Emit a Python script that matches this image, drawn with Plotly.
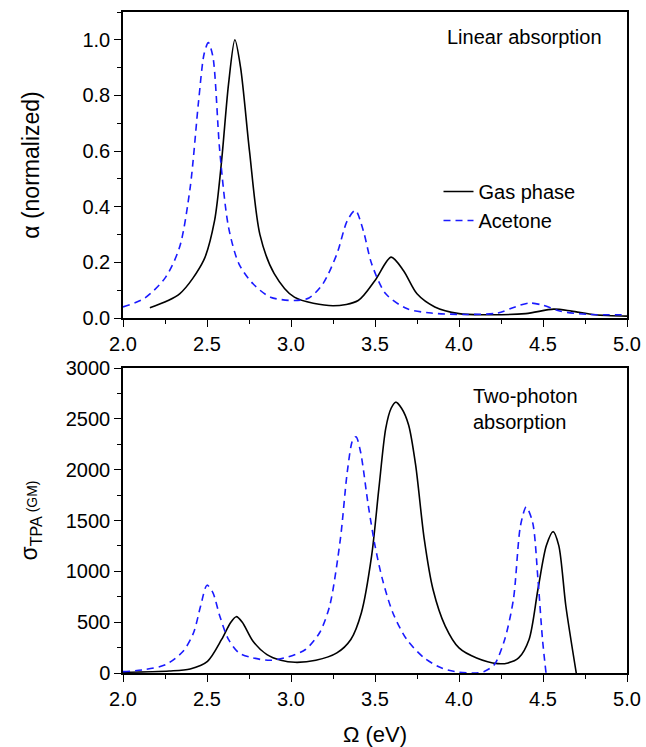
import plotly.graph_objects as go
from plotly.subplots import make_subplots

# ---- Linear absorption (normalized) ----
lin_gas_x = [2.16, 2.337, 2.48, 2.545, 2.587, 2.628, 2.666, 2.70, 2.753, 2.815, 2.90, 3.02, 3.25, 3.40, 3.50,
             3.596, 3.67, 3.75, 3.856, 4.0, 4.147, 4.397, 4.563, 4.67, 4.81, 5.0]
lin_gas_y = [0.037, 0.087, 0.207, 0.35, 0.566, 0.84, 1.0, 0.90, 0.60, 0.30, 0.16, 0.075, 0.044, 0.063, 0.135,
             0.219, 0.17, 0.087, 0.04, 0.016, 0.012, 0.016, 0.032, 0.025, 0.012, 0.007]

lin_ace_x = [2.0, 2.13, 2.254, 2.337, 2.40, 2.45, 2.483, 2.508, 2.535, 2.576, 2.628, 2.69, 2.774, 2.878, 3.02,
             3.107, 3.19, 3.273, 3.335, 3.383, 3.43, 3.48, 3.564, 3.689, 3.835, 4.04, 4.23, 4.334, 4.417,
             4.50, 4.60, 4.77, 5.0]
lin_ace_y = [0.04, 0.072, 0.147, 0.255, 0.47, 0.78, 0.95, 0.99, 0.94, 0.60, 0.327, 0.195, 0.123, 0.075, 0.063,
             0.072, 0.123, 0.23, 0.35, 0.387, 0.315, 0.195, 0.087, 0.034, 0.018, 0.013, 0.018, 0.04, 0.054,
             0.046, 0.025, 0.013, 0.012]

# ---- Two-photon absorption cross section (GM) ----
tpa_gas_x = [2.0, 2.275, 2.40, 2.503, 2.587, 2.64, 2.674, 2.71, 2.774, 2.857, 2.94, 3.024, 3.148, 3.273, 3.356,
             3.419, 3.48, 3.523, 3.564, 3.596, 3.623, 3.658, 3.70, 3.742, 3.793, 3.845, 3.918, 4.0, 4.105,
             4.23, 4.292, 4.355, 4.417, 4.47, 4.52, 4.56, 4.594, 4.636, 4.698]
tpa_gas_y = [7, 20, 40, 115, 330, 495, 554, 500, 313, 181, 125, 105, 125, 198, 330,
             593, 1154, 1813, 2407, 2604, 2664, 2604, 2440, 2044, 1319, 824, 462, 247, 148,
             92, 99, 148, 330, 824, 1253, 1391, 1253, 659, 0]

tpa_ace_x = [2.0, 2.13, 2.254, 2.358, 2.42, 2.462, 2.50, 2.535, 2.576, 2.628, 2.69, 2.774, 2.878, 2.982, 3.086,
             3.17, 3.23, 3.294, 3.335, 3.367, 3.387, 3.414, 3.46, 3.50, 3.544, 3.606, 3.689, 3.793, 3.897,
             4.0, 4.085, 4.147, 4.21, 4.272, 4.324, 4.366, 4.40, 4.438, 4.47, 4.497, 4.518]
tpa_ace_y = [13, 33, 82, 214, 396, 659, 864, 791, 560, 330, 198, 148, 125, 158, 231,
             396, 659, 1319, 1978, 2291, 2324, 2176, 1648, 1253, 923, 593, 330, 148, 49,
             7, 0, 13, 82, 330, 725, 1450, 1632, 1484, 923, 330, 0]

x_ticks = [2.0, 2.5, 3.0, 3.5, 4.0, 4.5, 5.0]
top_y_ticks = [0.0, 0.2, 0.4, 0.6, 0.8, 1.0]
bot_y_ticks = [0, 500, 1000, 1500, 2000, 2500, 3000]

BLUE = "#1a1aff"
FONT = "Liberation Sans, Arial, sans-serif"
TICKSIZE = 20

fig = make_subplots(rows=2, cols=1, shared_xaxes=False, vertical_spacing=0.0)

fig.add_trace(go.Scatter(x=lin_gas_x, y=lin_gas_y, mode="lines", name="Gas phase",
                         line=dict(color="black", width=1.6, shape="spline", smoothing=0.8)), row=1, col=1)
fig.add_trace(go.Scatter(x=lin_ace_x, y=lin_ace_y, mode="lines", name="Acetone",
                         line=dict(color=BLUE, width=1.6, dash="7px,5px", shape="spline", smoothing=0.8)), row=1, col=1)
fig.add_trace(go.Scatter(x=tpa_gas_x, y=tpa_gas_y, mode="lines", showlegend=False,
                         line=dict(color="black", width=1.6, shape="spline", smoothing=0.8)), row=2, col=1)
fig.add_trace(go.Scatter(x=tpa_ace_x, y=tpa_ace_y, mode="lines", showlegend=False,
                         line=dict(color=BLUE, width=1.6, dash="7px,5px", shape="spline", smoothing=0.8)), row=2, col=1)

axis_common = dict(showline=True, linecolor="black", linewidth=1.5, mirror=True, showgrid=False, zeroline=False,
                   ticks="outside", ticklen=7, tickwidth=1.3, tickcolor="black", automargin=False,
                   tickfont=dict(size=TICKSIZE, color="black", family=FONT))

fig.update_xaxes(range=[2.0, 5.0], tickvals=x_ticks, ticktext=[f"{v:.1f}" for v in x_ticks],
                 minor=dict(dtick=0.25, ticks="outside", ticklen=4, tickcolor="black", tickwidth=1.2),
                 **axis_common)
fig.update_xaxes(title=dict(text="Ω (eV)", font=dict(size=22, color="black", family=FONT), standoff=19), row=2, col=1)

fig.update_yaxes(range=[0, 1.1], tickvals=top_y_ticks, ticktext=[f"{v:.1f}" for v in top_y_ticks],
                 minor=dict(dtick=0.1, ticks="outside", ticklen=4, tickcolor="black", tickwidth=1.2),
                 title=dict(text="α (normalized)", font=dict(size=23, color="black", family=FONT), standoff=36),
                 row=1, col=1, **axis_common)
fig.update_yaxes(range=[0, 3000], tickvals=bot_y_ticks, ticktext=[str(v) for v in bot_y_ticks],
                 minor=dict(dtick=250, ticks="outside", ticklen=4, tickcolor="black", tickwidth=1.2),
                 title=dict(text="σ<sub>TPA</sub><span style='font-size:14px'> (GM)</span>",
                            font=dict(size=23, color="black", family=FONT), standoff=22),
                 row=2, col=1, **axis_common)

fig.update_layout(
    width=646, height=747,
    margin=dict(l=123, r=19, t=12, b=74, autoexpand=False),
    paper_bgcolor="white", plot_bgcolor="white",
    font=dict(family=FONT, color="black"),
    yaxis=dict(domain=[0.537, 1.0]),
    yaxis2=dict(domain=[0.0, 0.4614]),
    legend=dict(x=0.626, y=0.758, xanchor="left", yanchor="top", bgcolor="rgba(0,0,0,0)",
                font=dict(size=20, color="black", family=FONT), tracegroupgap=0),
    annotations=[
        dict(text="Linear absorption", xref="x domain", yref="y domain", x=0.955, y=0.962,
             xanchor="right", yanchor="top", showarrow=False, font=dict(size=20, color="black", family=FONT)),
        dict(text="Two-photon<br>absorption", xref="x2 domain", yref="y2 domain", x=0.69, y=0.952,
             xanchor="left", yanchor="top", align="left", showarrow=False,
             font=dict(size=20, color="black", family=FONT)),
    ],
)

fig.write_html("out.html", config={"displayModeBar": False},
               post_script="document.body.style.margin='0px';")
